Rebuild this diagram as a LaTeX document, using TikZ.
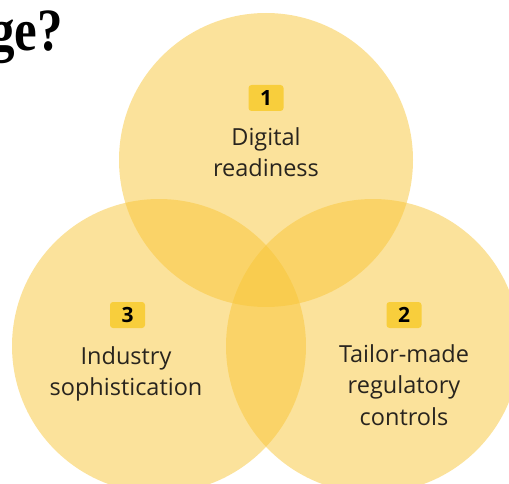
\documentclass[tikz,border=0pt]{standalone}
\usepackage{fontspec}
\newfontfamily\opensans{Open Sans}
\newfontfamily\titlefont{Liberation Serif}
\definecolor{venn}{RGB}{248,197,55}
\definecolor{badge}{RGB}{248,206,60}
\definecolor{txt}{RGB}{40,36,30}
\begin{document}
\begin{tikzpicture}[x=1pt,y=1pt,
  vcircle/.style={fill=venn,fill opacity=0.5,draw=none},
  badgebox/.style={fill=badge,rounded corners=3pt,minimum width=35pt,minimum height=26pt,inner sep=0pt,font=\opensans\bfseries\fontsize{21}{21}\selectfont,text=black},
  label/.style={font=\opensans\fontsize{23.5}{31}\selectfont,text=txt,align=center,inner sep=0pt},
]
\useasboundingbox (0,0) rectangle (509,483);
\clip (0,0) rectangle (509,483);
% title fragment
\node[anchor=base east,inner sep=0pt,font=\titlefont\bfseries\fontsize{60}{60}\selectfont] (title) at (63,432) {\scalebox{0.85}[1]{ge?}};
% circles
\fill[vcircle] (266,323) circle[radius=147];
\fill[vcircle] (159,137) circle[radius=147];
\fill[vcircle] (373,137) circle[radius=147];
% badges
\node[badgebox] (b1) at (266,385) {1};
\node[badgebox] (b3) at (127.5,168) {3};
\node[badgebox] (b2) at (404,168) {2};
% labels
\node[label,anchor=north] (l1) at (266,356) {Digital\\readiness};
\node[label,anchor=north] (l3) at (126,137) {Industry\\sophistication};
\node[label,anchor=north,font=\opensans\fontsize{23.5}{31.5}\selectfont] (l2) at (404,139) {Tailor-made\\regulatory\\controls};
\end{tikzpicture}
\end{document}
